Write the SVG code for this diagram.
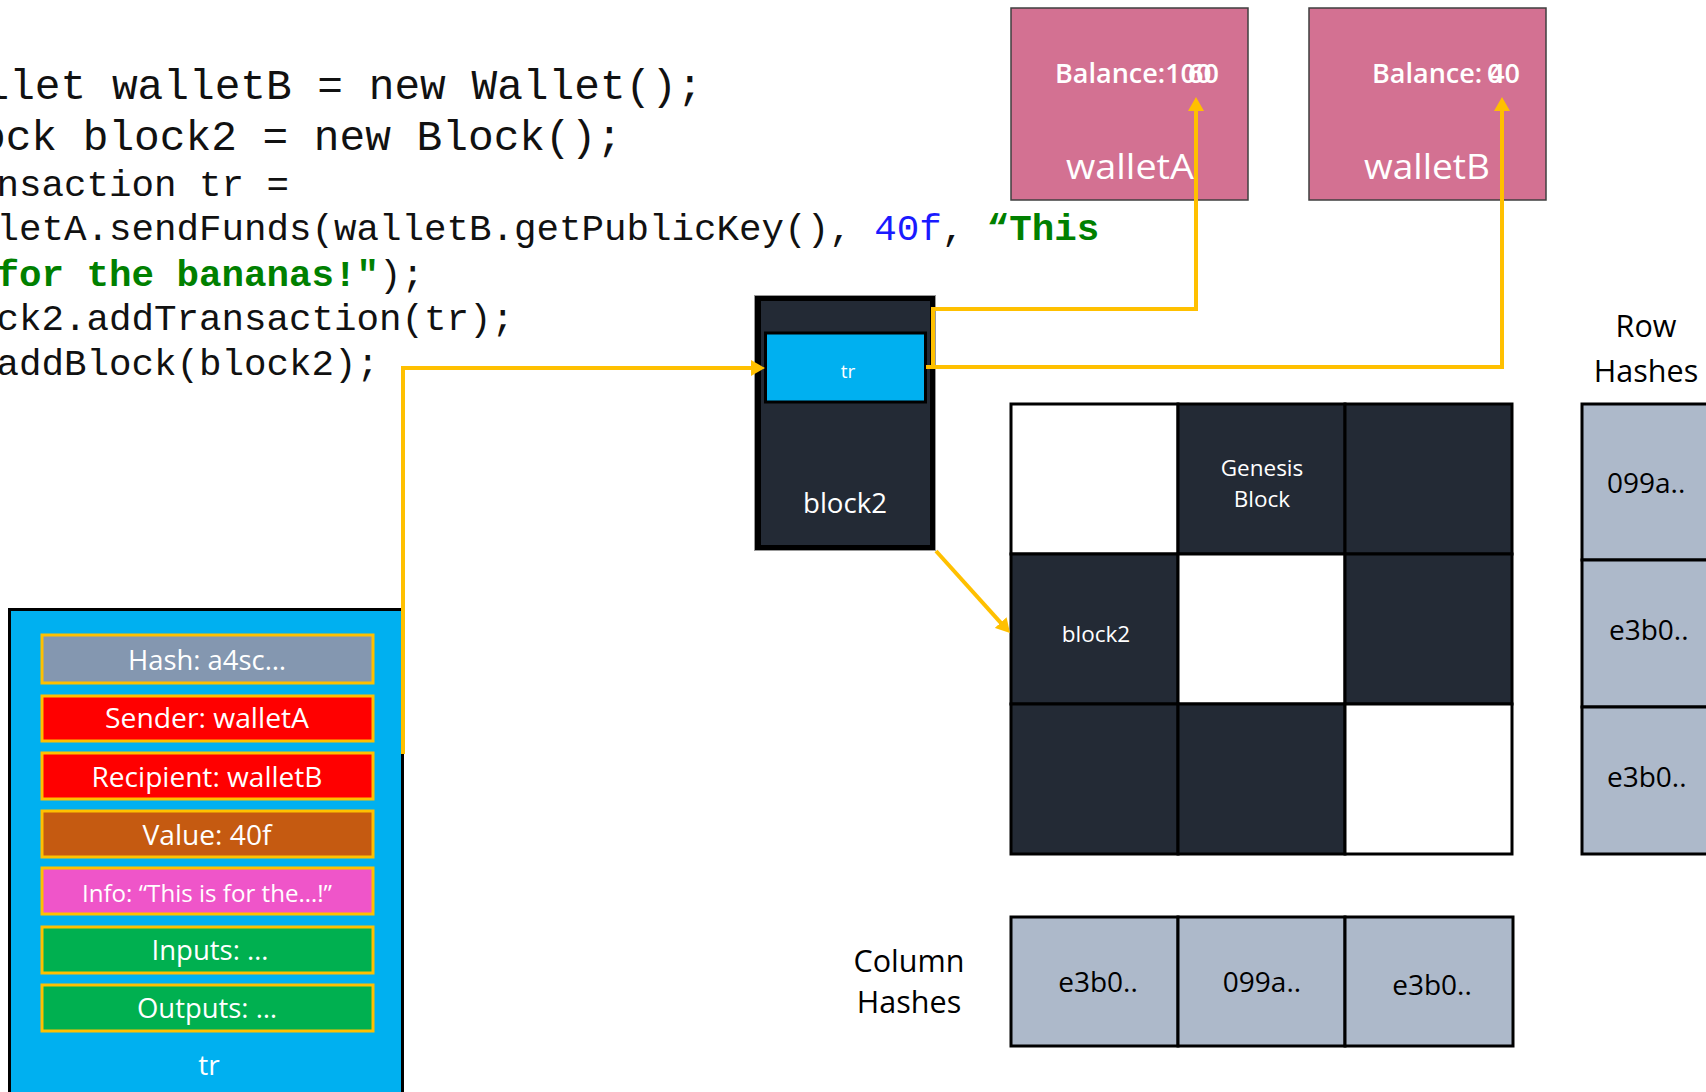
<svg xmlns="http://www.w3.org/2000/svg" width="1706" height="1092" viewBox="0 0 1706 1092">
<style>
.code{font-family:"Liberation Mono","Courier New",monospace;fill:#111;}
.big{font-size:42.8px;}
.sm{font-size:37.5px;}
.str{fill:#008000;font-weight:bold;}
.num{fill:#1a1aff;}
.lbl{font-family:"Open Sans","Noto Sans",sans-serif;fill:#fff;}
.blk{font-family:"Open Sans","Noto Sans",sans-serif;fill:#000;}
.mid{text-anchor:middle;}
.wallet{fill:#d37192;stroke:#3f3f3f;stroke-width:1.5;}
.field{stroke:#ffc000;stroke-width:3;}
.dark{fill:#232a35;stroke:#000;stroke-width:3;}
.white{fill:#fff;stroke:#000;stroke-width:3;}
.hash{fill:#adb9ca;stroke:#000;stroke-width:3;}
.conn{fill:none;stroke:#ffc000;stroke-width:4;}
</style>
<defs>
<marker id="arr" markerUnits="userSpaceOnUse" viewBox="0 0 14 16" markerWidth="14" markerHeight="16" refX="4" refY="8" orient="auto">
<path d="M0,0 L14,8 L0,16 z" fill="#ffc000"/>
</marker>
</defs>
<rect width="1706" height="1092" fill="#fff"/>

<g id="code">
<text class="code big" x="-16.5" y="99">llet walletB = new Wallet();</text>
<text class="code big" x="-20" y="150">ock block2 = new Block();</text>
<text class="code sm" x="-3.5" y="196">nsaction tr =</text>
<text class="code sm" x="-3.5" y="240">letA.sendFunds(walletB.getPublicKey(), <tspan class="num">40f</tspan>, <tspan class="str">“This</tspan></text>
<text class="code sm" x="-3.5" y="286"><tspan class="str">for the bananas!"</tspan>);</text>
<text class="code sm" x="-3.5" y="330">ck2.addTransaction(tr);</text>
<text class="code sm" x="-3.5" y="375">addBlock(block2);</text>
</g>

<g id="walletA">
<rect class="wallet" x="1011" y="8" width="237" height="192"/>
<text class="lbl" x="1055" y="83" font-size="27" font-weight="600">Balance:100</text>
<text class="lbl" x="1188" y="83" font-size="27" font-weight="600">60</text>
<text class="lbl mid" x="1130" y="179" font-size="35" textLength="128" lengthAdjust="spacingAndGlyphs">walletA</text>
</g>

<g id="walletB">
<rect class="wallet" x="1309" y="8" width="237" height="192"/>
<text class="lbl" x="1372" y="83" font-size="27" font-weight="600">Balance: 40</text>
<text class="lbl" x="1487" y="83" font-size="27" font-weight="600">0</text>
<text class="lbl mid" x="1427" y="179" font-size="35" textLength="126" lengthAdjust="spacingAndGlyphs">walletB</text>
</g>

<g id="block2">
<rect x="754.5" y="295.5" width="181" height="255" fill="#000" stroke="#999" stroke-width="1"/>
<rect x="761" y="301" width="169" height="244" fill="#232a35"/>
<g id="block2-tr">
<rect x="765.5" y="333" width="160" height="69" fill="#00b0f0" stroke="#000" stroke-width="3"/>
<text class="lbl mid" x="848" y="378" font-size="19">tr</text>
</g>
<text class="lbl mid" x="845" y="513" font-size="28" textLength="84" lengthAdjust="spacingAndGlyphs">block2</text>
</g>

<g id="grid">
<rect class="white" x="1011" y="404" width="167" height="150"/>
<rect class="dark" x="1178" y="404" width="167" height="150"/>
<rect class="dark" x="1345" y="404" width="167" height="150"/>
<rect class="dark" x="1011" y="554" width="167" height="150"/>
<rect class="white" x="1178" y="554" width="167" height="150"/>
<rect class="dark" x="1345" y="554" width="167" height="150"/>
<rect class="dark" x="1011" y="704" width="167" height="150"/>
<rect class="dark" x="1178" y="704" width="167" height="150"/>
<rect class="white" x="1345" y="704" width="167" height="150"/>
<text class="lbl mid" x="1262" y="476" font-size="22.5">Genesis</text>
<text class="lbl mid" x="1262" y="507" font-size="22.5">Block</text>
<text class="lbl mid" x="1096" y="642" font-size="22.5">block2</text>
</g>

<g id="rowHashes">
<text class="blk mid" x="1646" y="337" font-size="30.5">Row</text>
<text class="blk mid" x="1646" y="382" font-size="30.5">Hashes</text>
<rect class="hash" x="1582" y="404" width="140" height="156"/>
<rect class="hash" x="1582" y="560" width="140" height="147"/>
<rect class="hash" x="1582" y="707" width="140" height="147"/>
<text class="blk" x="1607" y="493" font-size="28">099a..</text>
<text class="blk" x="1609" y="640" font-size="28">e3b0..</text>
<text class="blk" x="1607" y="787" font-size="28">e3b0..</text>
</g>

<g id="colHashes">
<text class="blk mid" x="909" y="972" font-size="30.5">Column</text>
<text class="blk mid" x="909" y="1013" font-size="30.5">Hashes</text>
<rect class="hash" x="1011" y="917" width="167" height="129"/>
<rect class="hash" x="1178" y="917" width="167" height="129"/>
<rect class="hash" x="1345" y="917" width="168" height="129"/>
<text class="blk mid" x="1098" y="992" font-size="28">e3b0..</text>
<text class="blk mid" x="1262" y="992" font-size="28">099a..</text>
<text class="blk mid" x="1432" y="995" font-size="28">e3b0..</text>
</g>

<g id="trBox">
<rect x="9.5" y="609.5" width="393" height="500" fill="#00b0f0" stroke="#000" stroke-width="3"/>
<rect class="field" x="42" y="635" width="331" height="48" fill="#8497b0"/>
<text class="lbl mid" x="207" y="670" font-size="27" fill="#f2f2f2" textLength="158" lengthAdjust="spacingAndGlyphs">Hash: a4sc…</text>
<rect class="field" x="42" y="696" width="331" height="45" fill="#ff0000"/>
<text class="lbl mid" x="207" y="728" font-size="27" textLength="204" lengthAdjust="spacingAndGlyphs">Sender: walletA</text>
<rect class="field" x="42" y="753" width="331" height="46" fill="#ff0000"/>
<text class="lbl mid" x="207" y="787" font-size="27" textLength="231" lengthAdjust="spacingAndGlyphs">Recipient: walletB</text>
<rect class="field" x="42" y="811" width="331" height="46" fill="#c55a11"/>
<text class="lbl mid" x="207" y="845" font-size="27" textLength="129" lengthAdjust="spacingAndGlyphs">Value: 40f</text>
<rect class="field" x="42" y="868" width="331" height="46" fill="#ef55c9"/>
<text class="lbl mid" x="207" y="902" font-size="24" textLength="250" lengthAdjust="spacingAndGlyphs">Info: “This is for the…!”</text>
<rect class="field" x="42" y="927" width="331" height="46" fill="#00b050"/>
<text class="lbl mid" x="210" y="960" font-size="27" textLength="117" lengthAdjust="spacingAndGlyphs">Inputs: …</text>
<rect class="field" x="42" y="985" width="331" height="46" fill="#00b050"/>
<text class="lbl mid" x="207" y="1018" font-size="27" textLength="140" lengthAdjust="spacingAndGlyphs">Outputs: …</text>
<text class="lbl mid" x="209" y="1075" font-size="28">tr</text>
</g>

<g id="connectors">
<path class="conn" d="M403,754 V368 H755" marker-end="url(#arr)"/>
<path class="conn" d="M926,367 H933 V309 H1196 V107" marker-end="url(#arr)"/>
<path class="conn" d="M926,367 H1502 V107" marker-end="url(#arr)"/>
<path class="conn" d="M936,551 L1003.3,625.6" marker-end="url(#arr)"/>
</g>
</svg>
